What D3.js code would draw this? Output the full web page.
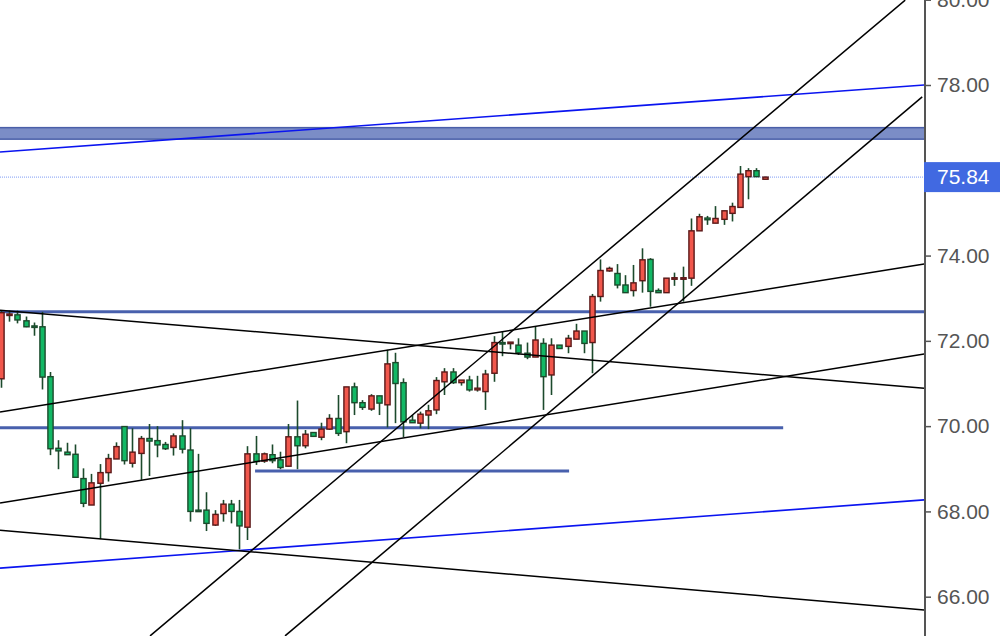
<!DOCTYPE html>
<html><head><meta charset="utf-8">
<script src="https://cdn.jsdelivr.net/npm/d3@7"></script>
<style>html,body{margin:0;padding:0;background:#fff;}svg{display:block;}</style>
</head><body>
<svg id="chart" width="1000" height="636"></svg>
<script>
const opens  = [71.11,72.60,72.61,72.47,72.35,72.33,71.16,69.48,69.39,69.34,68.77,68.15,68.66,68.91,69.23,69.99,69.13,69.36,69.71,69.66,69.57,69.50,69.77,69.44,68.03,68.03,67.68,67.95,68.17,68.00,67.63,69.35,69.18,69.33,69.21,69.06,69.75,69.54,69.85,69.74,69.93,70.18,69.87,70.92,70.55,70.40,70.71,70.50,71.49,71.02,70.14,70.07,70.26,70.38,71.04,71.27,71.02,71.08,70.85,70.81,71.24,71.96,71.94,71.90,71.71,71.62,71.94,71.20,71.90,71.87,72.04,72.23,71.96,73.04,73.64,73.58,73.31,73.18,73.41,73.91,73.18,73.13,73.46,73.46,73.47,74.58,74.88,74.76,74.85,74.99,75.13,75.85,75.99,75.79];
const highs  = [72.70,72.71,72.71,72.57,72.43,72.68,71.27,69.67,69.61,69.57,69.01,68.88,69.11,69.35,69.62,69.99,69.95,69.77,70.05,70.00,69.63,69.83,70.14,69.95,69.35,68.45,68.03,68.27,68.27,68.27,69.53,69.77,69.38,69.57,69.40,70.05,70.60,69.91,69.85,70.08,70.28,70.73,70.92,71.02,70.61,70.75,70.71,71.79,71.72,71.12,70.26,70.34,70.50,71.15,71.36,71.36,71.08,71.18,71.18,71.32,72.11,72.22,71.97,72.06,71.96,72.33,72.06,72.06,71.90,72.14,72.40,72.23,73.10,73.91,73.74,73.80,73.54,73.78,74.17,73.94,73.23,73.47,73.60,73.74,74.87,74.98,74.93,75.16,75.05,75.24,76.10,76.05,76.05,75.85];
const lows   = [70.90,72.45,72.41,72.32,72.12,70.86,69.32,68.99,69.33,68.80,68.10,68.15,67.35,68.70,69.23,69.10,69.03,68.74,68.83,69.27,69.44,69.31,69.36,67.76,68.00,67.54,67.66,67.76,67.72,67.11,67.33,69.09,69.14,69.13,68.99,69.05,68.99,69.48,69.76,69.67,69.91,69.77,69.60,70.26,70.38,70.36,70.26,69.97,70.07,69.74,70.08,69.95,69.93,70.28,70.73,70.99,70.95,70.81,70.81,70.38,71.04,71.64,71.80,71.67,71.57,71.62,70.38,70.73,71.82,71.71,72.04,71.71,71.24,72.92,73.62,73.23,73.13,73.04,73.13,72.80,73.13,73.13,73.29,72.92,73.29,74.58,74.72,74.76,74.72,74.80,75.13,75.32,75.85,75.79];
const closes = [72.66,72.63,72.49,72.33,72.33,71.15,69.47,69.42,69.33,68.80,68.19,68.67,68.91,69.24,69.52,69.19,69.39,69.71,69.65,69.56,69.47,69.77,69.46,68.00,68.00,67.72,67.93,68.17,68.00,67.66,69.35,69.17,69.35,69.19,69.03,69.75,69.54,69.81,69.76,69.93,70.18,69.83,70.92,70.55,70.44,70.71,70.54,71.46,71.00,70.10,70.08,70.28,70.36,71.07,71.27,71.02,71.08,70.85,70.89,71.22,71.96,71.93,71.97,71.72,71.62,72.02,71.16,71.90,71.82,72.06,72.23,71.94,73.04,73.65,73.70,73.31,73.13,73.36,73.90,73.16,73.13,73.47,73.48,73.48,74.58,74.91,74.84,74.87,75.05,75.15,75.91,75.99,75.85,75.84];

const tickValues = [66, 68, 70, 72, 74, 78, 80];
const lastPrice = 75.84;

// Trend lines: [startIndex, startPrice, endIndex, endPrice]
const blackLines = [
  [18.15, 65.08, 110.11, 79.99],
  [34.59, 65.08, 112.18, 77.72],
  [-0.12, 70.33, 112.42, 73.80],
  [-0.12, 68.20, 112.42, 71.69],
  [-0.12, 72.72, 112.42, 70.89],
  [-0.12, 67.56, 112.42, 65.69]
];
const blueLines = [
  [-0.12, 76.43, 112.42, 78.00],
  [-0.12, 66.67, 112.42, 68.27]
];
// Horizontal levels: [price, fromIndex, toIndex]
const levels = [
  [72.68, -1, 113],
  [69.96, -1, 95.25],
  [68.95, 30.94, 69.18]
];
const zone = [76.73, 77.00];

const svg = d3.select("#chart");
const W = 1000, H = 636, plotRight = 925;

const x = d3.scaleLinear().domain([0, 93]).range([1, 764.7]);
const y = d3.scaleLinear().domain([66, 78]).range([596.7, 85]);

svg.append("defs").append("clipPath").attr("id", "plot")
  .append("rect").attr("x", 0).attr("y", 0).attr("width", plotRight).attr("height", H);

const g = svg.append("g").attr("clip-path", "url(#plot)");

// zone
g.append("rect")
  .attr("x", x(-1)).attr("width", x(113) - x(-1))
  .attr("y", y(zone[1])).attr("height", y(zone[0]) - y(zone[1]))
  .attr("fill", "#7b8dc6").attr("stroke", "#4a5fa8").attr("stroke-width", 1.5);

// last price dotted line
g.append("line")
  .attr("x1", 0).attr("x2", plotRight)
  .attr("y1", y(lastPrice)).attr("y2", y(lastPrice))
  .attr("stroke", "#7f9cf5").attr("stroke-width", 1).attr("stroke-dasharray", "1,1");

// horizontal levels
g.selectAll(".lvl").data(levels).enter().append("line")
  .attr("x1", d => x(d[1])).attr("x2", d => x(d[2]))
  .attr("y1", d => y(d[0])).attr("y2", d => y(d[0]))
  .attr("stroke", "#4860ad").attr("stroke-width", 3);

// blue trend lines
g.selectAll(".bl").data(blueLines).enter().append("line")
  .attr("x1", d => x(d[0])).attr("y1", d => y(d[1]))
  .attr("x2", d => x(d[2])).attr("y2", d => y(d[3]))
  .attr("stroke", "#0a14f0").attr("stroke-width", 1.6);

// candles
const data = opens.map((o, i) => ({i, o, h: highs[i], l: lows[i], c: closes[i]}));
const bw = 5.2;
const cg = g.append("g");
cg.selectAll(".wick").data(data).enter().append("line")
  .attr("x1", d => Math.round(x(d.i)) + 0.5).attr("x2", d => Math.round(x(d.i)) + 0.5)
  .attr("y1", d => y(d.h)).attr("y2", d => y(d.l))
  .attr("stroke", "#1c4a2c").attr("stroke-width", 1.6);
cg.selectAll(".body").data(data).enter().append("rect")
  .attr("x", d => Math.round(x(d.i)) + 0.5 - bw / 2)
  .attr("width", bw)
  .attr("y", d => y(Math.max(d.o, d.c)))
  .attr("height", d => Math.max(1.5, Math.abs(y(d.o) - y(d.c))))
  .attr("fill", d => d.c >= d.o ? "#f1574c" : "#12b865")
  .attr("stroke", d => d.c >= d.o ? "#5a1818" : "#1c4a2c")
  .attr("stroke-width", 1.4);

// black trend lines (drawn over candles)
g.selectAll(".kl").data(blackLines).enter().append("line")
  .attr("x1", d => x(d[0])).attr("y1", d => y(d[1]))
  .attr("x2", d => x(d[2])).attr("y2", d => y(d[3]))
  .attr("stroke", "#000").attr("stroke-width", 1.5);

// price axis
const axis = d3.axisRight(y).tickValues(tickValues).tickFormat(d3.format(".2f")).tickSize(6).tickPadding(6);
const ag = svg.append("g").attr("transform", `translate(${plotRight},0)`).call(axis);
ag.select(".domain").attr("stroke", "#555").attr("stroke-width", 2).attr("d", `M0,0V${H}`);
ag.selectAll(".tick line").attr("stroke", "#555").attr("stroke-width", 1.5);
ag.selectAll(".tick text").attr("fill", "#555").attr("font-size", 21)
  .attr("font-family", "'Liberation Sans', Arial, Helvetica, sans-serif");

// last price label
const lp = svg.append("g").attr("transform", `translate(${plotRight - 1},${y(lastPrice)})`);
lp.append("rect").attr("x", 0).attr("y", -15).attr("width", W - plotRight + 1).attr("height", 30).attr("fill", "#4169e1");
lp.append("text").attr("x", 13).attr("y", 0).attr("dy", "0.35em")
  .attr("fill", "#fff").attr("font-size", 21)
  .attr("font-family", "'Liberation Sans', Arial, Helvetica, sans-serif")
  .text(d3.format(".2f")(lastPrice));
</script>
</body></html>
